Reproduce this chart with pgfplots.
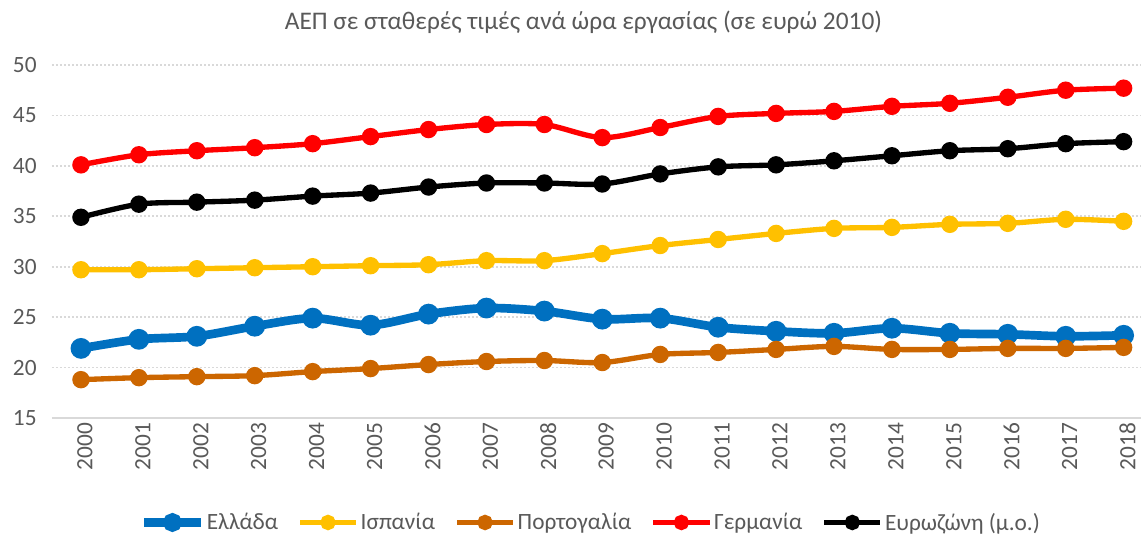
\documentclass[border=0pt]{standalone}
\usepackage{fontspec}
\setmainfont{Carlito}
\usepackage{pgfplots}
\pgfplotsset{compat=1.18}

\definecolor{cGR}{HTML}{0070C0}
\definecolor{cES}{HTML}{FFC000}
\definecolor{cPT}{HTML}{CC6600}
\definecolor{cDE}{HTML}{FF0000}
\definecolor{cEZ}{HTML}{000000}
\definecolor{txt}{HTML}{595959}
\definecolor{grd}{HTML}{D9D9D9}

\begin{document}
\begin{tikzpicture}
\begin{axis}[
    scale only axis,
    width=816.75pt, height=264.75pt,
    xmin=1999.5, xmax=2018.3,
    ymin=15, ymax=50,
    xtick={2000,...,2018},
    ytick={15,20,...,50},
    axis x line*=bottom,
    axis y line*=left,
    x axis line style={color=grd, line width=1.2pt, -},
    y axis line style={draw=none},
    major tick length=0pt,
    ymajorgrids,
    major grid style={color=grd, line width=1.2pt, dash pattern=on 1.4pt off 1.6pt},
    tick label style={font=\fontsize{17.5}{20}\selectfont, color=txt,
        /pgf/number format/assume math mode=true},
    x tick label style={rotate=90, anchor=east, yshift=-3pt,
        /pgf/number format/1000 sep={}},
    y tick label style={xshift=-8pt},
    clip=false,
    legend columns=-1,
    legend style={at={(0.495,-0.296)}, anchor=center, draw=none, fill=none,
        font=\fontsize{17.5}{20}\selectfont, text=txt,
        nodes={inner sep=1.5pt},
        /tikz/every even column/.append style={column sep=13pt}},
    legend image code/.code={
        \draw[mark repeat=2, mark phase=2, #1, mark size=3.75pt]
        plot coordinates {(0pt,0pt) (21pt,0pt) (42pt,0pt)};},
    every axis plot/.append style={smooth, mark=*, line width=4pt, mark size=4.5pt},
]
\addplot[color=cGR, line width=6.5pt] coordinates {
(2000,21.9)(2001,22.8)(2002,23.1)(2003,24.1)(2004,24.9)(2005,24.2)(2006,25.3)
(2007,25.9)(2008,25.6)(2009,24.8)(2010,24.9)(2011,24.0)(2012,23.6)(2013,23.4)
(2014,23.9)(2015,23.4)(2016,23.3)(2017,23.1)(2018,23.2)};
\addlegendentry{Ελλάδα}
\addplot[color=cES] coordinates {
(2000,29.7)(2001,29.7)(2002,29.8)(2003,29.9)(2004,30.0)(2005,30.1)(2006,30.2)
(2007,30.6)(2008,30.6)(2009,31.3)(2010,32.1)(2011,32.7)(2012,33.3)(2013,33.8)
(2014,33.9)(2015,34.2)(2016,34.3)(2017,34.7)(2018,34.5)};
\addlegendentry{Ισπανία}
\addplot[color=cPT] coordinates {
(2000,18.8)(2001,19.0)(2002,19.1)(2003,19.2)(2004,19.6)(2005,19.9)(2006,20.3)
(2007,20.6)(2008,20.7)(2009,20.5)(2010,21.3)(2011,21.5)(2012,21.8)(2013,22.1)
(2014,21.8)(2015,21.8)(2016,21.9)(2017,21.9)(2018,22.0)};
\addlegendentry{Πορτογαλία}
\addplot[color=cDE] coordinates {
(2000,40.1)(2001,41.1)(2002,41.5)(2003,41.8)(2004,42.2)(2005,42.9)(2006,43.6)
(2007,44.1)(2008,44.1)(2009,42.8)(2010,43.8)(2011,44.9)(2012,45.2)(2013,45.4)
(2014,45.9)(2015,46.2)(2016,46.8)(2017,47.5)(2018,47.7)};
\addlegendentry{Γερμανία}
\addplot[color=cEZ] coordinates {
(2000,34.9)(2001,36.2)(2002,36.4)(2003,36.6)(2004,37.0)(2005,37.3)(2006,37.9)
(2007,38.3)(2008,38.3)(2009,38.2)(2010,39.2)(2011,39.9)(2012,40.1)(2013,40.5)
(2014,41.0)(2015,41.5)(2016,41.7)(2017,42.2)(2018,42.4)};
\addlegendentry{Ευρωζώνη (μ.ο.)}
\node[font=\fontsize{19}{22}\selectfont, text=txt] at (rel axis cs:0.488,1.12)
    {ΑΕΠ σε σταθερές τιμές ανά ώρα εργασίας (σε ευρώ 2010)};
\coordinate (bbll) at (rel axis cs:0,0);
\coordinate (bbur) at (rel axis cs:1,1);
\end{axis}
\pgfresetboundingbox
\path[use as bounding box] ([xshift=-39pt,yshift=-89.25pt]bbll) rectangle ([yshift=48.75pt]bbur);
\end{tikzpicture}
\end{document}
